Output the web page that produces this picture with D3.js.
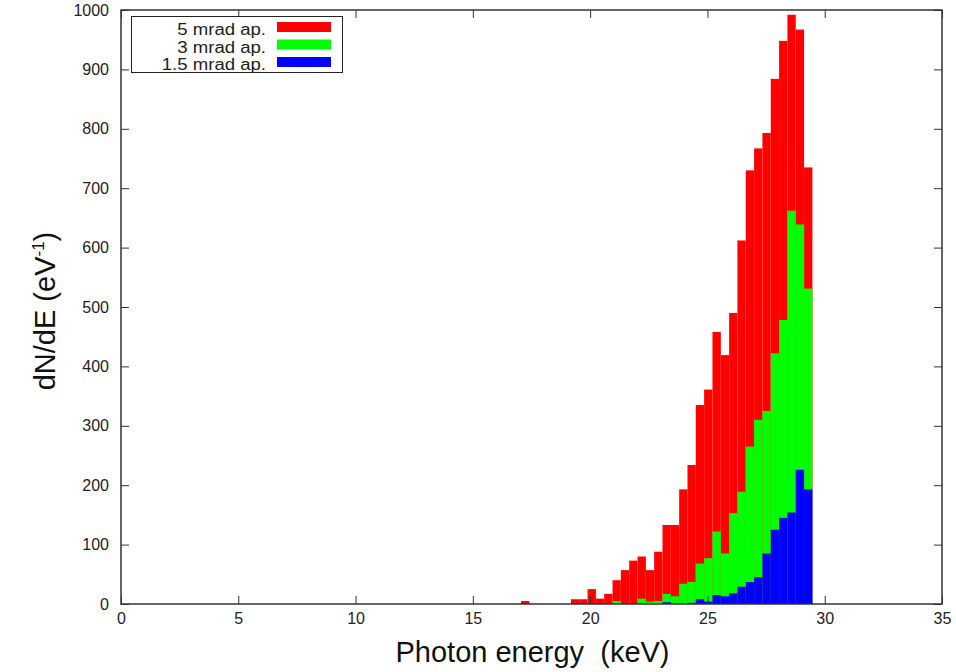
<!DOCTYPE html>
<html>

<head>
    <meta charset="utf-8">
    <style>
        body {
            margin: 0;
            background: #fff;
            font-family: "Liberation Sans", Arial, sans-serif;
        }

        svg {
            display: block;
        }

        .tick text {
            font-size: 16px;
            fill: #222;
        }

        .domain {
            display: none;
        }
    </style>
</head>

<body>
    <svg width="956" height="672"></svg>
</body>

<script src="https://d3js.org/d3.v7.min.js"></script>

<script>

    // Left edge of each energy bin (keV), bins are binWidth wide
    let binStart = [
        17.05, 17.405, 17.76, 18.115, 18.47, 18.825,
        19.18, 19.535, 19.89, 20.245, 20.6, 20.955, 21.31, 21.665, 22.02, 22.375,
        22.73, 23.085, 23.44, 23.795, 24.15, 24.505, 24.86, 25.215, 25.57, 25.925,
        26.28, 26.635, 26.99, 27.345, 27.7, 28.055, 28.41, 28.765, 29.12
    ]
    let binWidth = 0.355

    // dN/dE per aperture (eV^-1)
    let mrad5 = [
        5, 0, 0, 0, 0, 0,
        8, 8, 25, 9, 17, 40, 57, 73, 80, 57,
        88, 133, 133, 193, 234, 335, 361, 458, 419, 490,
        612, 730, 767, 793, 884, 948, 992, 967, 735
    ]
    let mrad3 = [
        0, 0, 0, 0, 0, 0,
        0, 0, 0, 0, 0, 5, 0, 0, 9, 4,
        5, 17, 13, 34, 37, 68, 77, 122, 85, 153,
        189, 265, 310, 325, 422, 478, 662, 639, 531
    ]
    let mrad15 = [
        0, 0, 0, 0, 0, 0,
        0, 0, 0, 0, 0, 0, 0, 0, 0, 0,
        0, 3, 0, 0, 2, 8, 4, 15, 13, 18,
        29, 37, 45, 85, 125, 145, 154, 226, 193
    ]

    let seriesNames = ["5 mrad ap.", "3 mrad ap.", "1.5 mrad ap."]
    let seriesColors = ["#ff0000", "#00ff00", "#0000ff"]
    let xTicks = [0, 5, 10, 15, 20, 25, 30, 35]
    let yTicks = [0, 100, 200, 300, 400, 500, 600, 700, 800, 900, 1000]

    let margin = { top: 10, right: 14, bottom: 68, left: 121 }
    let width = 956
    let height = 672

    let svg = d3.select("svg")

    let x = d3.scaleLinear()
        .domain([0, 35])
        .range([margin.left, width - margin.right])

    let y = d3.scaleLinear()
        .domain([0, 1000])
        .range([height - margin.bottom, margin.top])

    // bars: biggest aperture first so the smaller ones sit in front
    let allSeries = [mrad5, mrad3, mrad15]

    allSeries.forEach(function (values, s) {
        svg.append("g")
            .attr("fill", seriesColors[s])
            .selectAll("rect")
            .data(values.map((v, i) => ({ e: binStart[i], v: v })).filter(d => d.v > 0))
            .join("rect")
            .attr("x", d => x(d.e))
            .attr("width", d => x(d.e + binWidth) - x(d.e))
            .attr("y", d => y(d.v))
            .attr("height", d => y(0) - y(d.v))
    })

    // axes, ticks pointing inwards on all four sides
    svg.append("g")
        .attr("class", "x axis")
        .attr("transform", `translate(0,${y(0)})`)
        .call(d3.axisBottom(x).tickValues(xTicks).tickSizeInner(-8).tickSizeOuter(0).tickPadding(9))

    svg.append("g")
        .attr("transform", `translate(0,${y(1000)})`)
        .call(d3.axisTop(x).tickValues(xTicks).tickSizeInner(-8).tickSizeOuter(0).tickFormat(""))

    svg.append("g")
        .attr("class", "y axis")
        .attr("transform", `translate(${x(0)},0)`)
        .call(d3.axisLeft(y).tickValues(yTicks).tickSizeInner(-8).tickSizeOuter(0).tickPadding(12).tickFormat(d3.format("d")))

    svg.append("g")
        .attr("transform", `translate(${x(35)},0)`)
        .call(d3.axisRight(y).tickValues(yTicks).tickSizeInner(-8).tickSizeOuter(0).tickFormat(""))

    svg.selectAll(".tick line")
        .attr("stroke", "#333")
        .attr("stroke-width", 1)

    // frame
    svg.append("rect")
        .attr("x", x(0))
        .attr("y", y(1000))
        .attr("width", x(35) - x(0))
        .attr("height", y(0) - y(1000))
        .attr("fill", "none")
        .attr("stroke", "#333")
        .attr("stroke-width", 1.5)

    // axis titles
    svg.append("text")
        .attr("x", (x(0) + x(35)) / 2 + 1)
        .attr("y", 662)
        .attr("text-anchor", "middle")
        .style("font-size", "29px")
        .style("white-space", "pre")
        .style("fill", "#111")
        .text("Photon energy  (keV)")

    let yTitle = svg.append("text")
        .attr("transform", "translate(55,311) rotate(-90)")
        .attr("text-anchor", "middle")
        .style("font-size", "29px")
        .style("fill", "#111")
    yTitle.append("tspan").text("dN/dE (eV")
    yTitle.append("tspan").attr("dy", -11).style("font-size", "17px").text("-1")
    yTitle.append("tspan").attr("dy", 11).text(")")

    // legend
    let legend = svg.append("g")

    legend.append("rect")
        .attr("x", 131.5)
        .attr("y", 16.5)
        .attr("width", 211)
        .attr("height", 56)
        .attr("fill", "#fff")
        .attr("stroke", "#222")
        .attr("stroke-width", 1)

    seriesNames.forEach(function (name, i) {
        let t = legend.append("text")
            .attr("x", 266)
            .attr("y", 35 + i * 17.5)
            .attr("text-anchor", "end")
            .style("font-size", "16px")
            .style("fill", "#222")
            .text(name)
        // the reference font runs a bit wider
        t.attr("textLength", t.node().getComputedTextLength() * 1.16)
            .attr("lengthAdjust", "spacingAndGlyphs")

        legend.append("rect")
            .attr("x", 277)
            .attr("y", 22 + i * 17.5)
            .attr("width", 54)
            .attr("height", 10)
            .attr("fill", seriesColors[i])
    })

</script>

</html>
